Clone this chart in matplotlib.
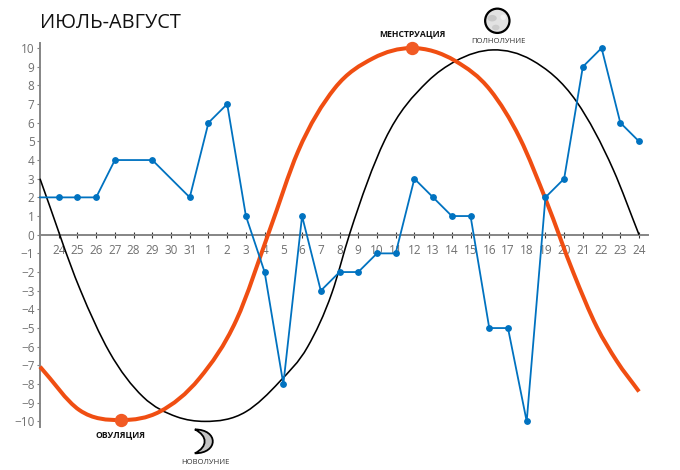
import numpy as np
import matplotlib
matplotlib.use('Agg')
import matplotlib.pyplot as plt
from matplotlib.patches import Circle, Ellipse, PathPatch
from matplotlib.path import Path

plt.rcParams['font.family'] = ['Open Sans', 'DejaVu Sans']

days = ['24', '25', '26', '27', '28', '29', '30', '31', '1', '2', '3', '4', '5', '6', '7', '8',
        '9', '10', '11', '12', '13', '14', '15', '16', '17', '18', '19', '20', '21', '22', '23', '24']
y_ticks = list(range(-10, 11))

# mood, first value sits on the y axis (position -1)
mood = [2, 2, 2, 2, 4, 4, 4, 3, 2, 6, 7, 1, -2, -8, 1, -3, -2, -2, -1, -1, 3, 2, 1, 1, -5, -5, -10, 2, 3, 9, 10, 6, 5]
mood_no_marker = [0, 5, 7]

# curves, position along the day axis / value
moon_x = [-1, 1.15, 2.7, 4.5, 6.3, 7.8, 10.0, 11.8, 13.3, 14.6, 15.55, 17.42, 19.7, 21.2, 23.2, 25.26, 27.67, 29.63, 31]
moon_y = [3, -2.95, -6.27, -8.68, -9.75, -10, -9.48, -7.87, -6.0, -3.1, 0.07, 5.07, 8.2, 9.3, 9.9, 9.36, 7.12, 3.47, 0]
cycle_x = [-1, 1.1, 3.34, 5.39, 7.52, 9.49, 11.27, 12.78, 14.74, 16.79, 18.85, 21.2, 23.05, 24.64, 26.06, 27.5, 28.75, 29.8, 31]
cycle_y = [-7.07, -9.39, -9.93, -9.48, -7.69, -4.57, 0.25, 4.45, 7.84, 9.45, 10, 9.3, 7.75, 5.16, 1.77, -2.05, -4.95, -6.75, -8.4]
ovulation = (3.34, -9.95)
period = (18.85, 10)


def smooth_path(x, y):
    # cubic hermite through the read points, x only grows so slopes are simple
    x, y = np.asarray(x, float), np.asarray(y, float)
    slope = np.gradient(y, x)
    verts, codes = [(x[0], y[0])], [Path.MOVETO]
    for i in range(len(x) - 1):
        dx = x[i + 1] - x[i]
        verts += [(x[i] + dx / 3, y[i] + slope[i] * dx / 3),
                  (x[i + 1] - dx / 3, y[i + 1] - slope[i + 1] * dx / 3),
                  (x[i + 1], y[i + 1])]
        codes += [Path.CURVE4] * 3
    return Path(verts, codes)


grey = '#858585'
blue = '#0072c0'
orange = '#f04e12'

fig = plt.figure(figsize=(6.8, 4.7), dpi=100)
ax = fig.add_axes([40 / 680, 1 - 427 / 470, 608 / 680, 384 / 470])
ax.set_xlim(-1, 31.48)
ax.set_ylim(-10.3, 10.27)

for name in ['top', 'right']:
    ax.spines[name].set_visible(False)
ax.spines['bottom'].set_position(('data', 0))
for name in ['left', 'bottom']:
    ax.spines[name].set_color(grey)
    ax.spines[name].set_linewidth(1.4)

positions = np.arange(len(days))
ax.set_xticks(positions, days)
ax.set_yticks(y_ticks)
ax.tick_params(axis='x', direction='inout', length=5, width=0.8, color='#333333', labelsize=8.5,
               labelcolor='#707070', pad=4)
ax.tick_params(axis='y', direction='out', length=2.5, width=0.8, color=grey, labelsize=8.5,
               labelcolor='#707070', pad=1.5)

ax.add_patch(PathPatch(smooth_path(moon_x, moon_y), fill=False, edgecolor='black', linewidth=1.15, clip_on=False, zorder=3))
ax.add_patch(PathPatch(smooth_path(cycle_x, cycle_y), fill=False, edgecolor=orange, linewidth=2.9, clip_on=False, zorder=4))

mood_x = np.arange(-1, len(mood) - 1)
marked = [i for i in range(len(mood)) if i not in mood_no_marker]
ax.plot(mood_x, mood, color=blue, linewidth=1.3, marker='o', markersize=3.9, markevery=marked, clip_on=False, zorder=5)

ax.plot(*ovulation, 'o', color='#f15a24', markersize=8.6, clip_on=False, zorder=6)
ax.plot(*period, 'o', color='#f15a24', markersize=8.6, clip_on=False, zorder=6)

# full moon
ax.add_patch(Circle((23.43, 11.46), 0.65, facecolor='#e2e2e2', edgecolor='black', linewidth=1.6, clip_on=False, zorder=6))
ax.add_patch(Ellipse((23.15, 11.6), 0.5, 0.35, facecolor='#c8c8c8', edgecolor='none', clip_on=False, zorder=7))
ax.add_patch(Ellipse((23.35, 11.1), 0.4, 0.3, facecolor='#cccccc', edgecolor='none', clip_on=False, zorder=7))
ax.add_patch(Ellipse((23.75, 11.65), 0.3, 0.3, facecolor='#f2f2f2', edgecolor='none', clip_on=False, zorder=7))

# new moon crescent, outer and inner edge between the two tips
tip_x, top, bottom = 7.27, -10.43, -11.71
crescent = Path([(tip_x, top), (8.55, top), (8.55, bottom), (tip_x, bottom),
                 (7.97, bottom + 0.35), (7.97, top - 0.35), (tip_x, top)],
                [Path.MOVETO] + [Path.CURVE4] * 6)
ax.add_patch(PathPatch(crescent, facecolor='#c4c4c4', edgecolor='black', linewidth=1.3, clip_on=False, zorder=6))

ax.text(-1, 11.32, 'ИЮЛЬ-АВГУСТ', fontsize=14.3, color='#111111', ha='left', va='center')
ax.text(3.3, -10.72, 'ОВУЛЯЦИЯ', fontsize=6.2, fontweight='bold', color='#111111', ha='center', va='center')
ax.text(18.9, 10.78, 'МЕНСТРУАЦИЯ', fontsize=6.2, fontweight='bold', color='#111111', ha='center', va='center')
ax.text(23.5, 10.36, 'ПОЛНОЛУНИЕ', fontsize=5.5, color='#333333', ha='center', va='center')
ax.text(7.85, -12.2, 'НОВОЛУНИЕ', fontsize=5.5, color='#333333', ha='center', va='center')

fig.savefig('out.png', dpi=100)
